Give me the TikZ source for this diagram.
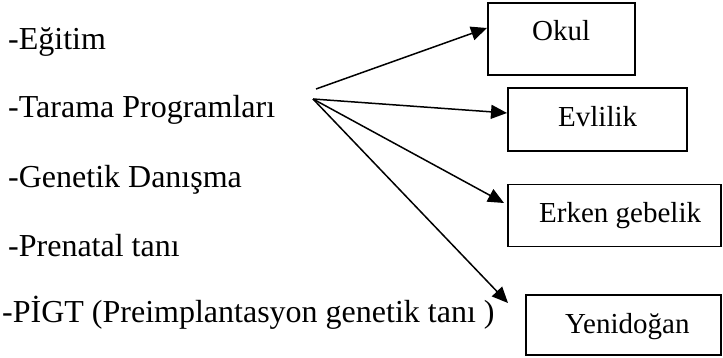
\documentclass[tikz,border=0pt]{standalone}
\usepackage{fontspec}
\setmainfont{Liberation Serif}
\usetikzlibrary{arrows.meta}
\tikzset{
  boxnode/.style={draw, line width=1.8pt, rectangle, inner sep=0pt},
  lefttext/.style={anchor=base west, inner sep=0pt, font=\fontsize{32}{36}\selectfont},
  boxtext/.style={anchor=base west, inner sep=0pt, font=\fontsize{29}{33}\selectfont},
  arr/.style={line width=1.5pt, -{Triangle[length=16pt,width=14pt]}}
}
\begin{document}
\begin{tikzpicture}[x=1pt,y=-1pt]
\useasboundingbox (0,0) rectangle (723,358);
% left list
\node[lefttext] (t1) at (8,50) {-Eğitim};
\node[lefttext] (t2) at (8,118) {-Tarama Programları};
\node[lefttext] (t3) at (8,188) {-Genetik Danışma};
\node[lefttext] (t4) at (8,257) {-Prenatal tanı};
\node[lefttext] (t5) at (2,322) {-PİGT (Preimplantasyon genetik tanı )};
% boxes
\node[boxnode, minimum width=147pt, minimum height=72pt] (okul) at (561.5,39) {};
\node[boxnode, minimum width=179pt, minimum height=63pt] (evl) at (597.5,119.5) {};
\node[boxnode, minimum width=213pt, minimum height=62pt] (erk) at (614.5,215.5) {};
\node[boxnode, minimum width=195pt, minimum height=60pt] (yen) at (623.5,325) {};
\node[boxtext] (lokul) at (532,41) {Okul};
\node[boxtext] (levl) at (558,127) {Evlilik};
\node[boxtext] (lerk) at (539,223) {Erken gebelik};
\node[boxtext] (lyen) at (565,333) {Yenidoğan};
% arrows
\coordinate (s1) at (316,89);
\coordinate (s2) at (313,99);
\coordinate (e1) at (487,28);
\coordinate (e2) at (507,113);
\coordinate (e3) at (504,203);
\coordinate (e4) at (508,303);
\draw[arr] (s1) -- (e1);
\draw[arr] (s2) -- (e2);
\draw[arr] (s2) -- (e3);
\draw[arr] (s2) -- (e4);
\end{tikzpicture}
\end{document}
